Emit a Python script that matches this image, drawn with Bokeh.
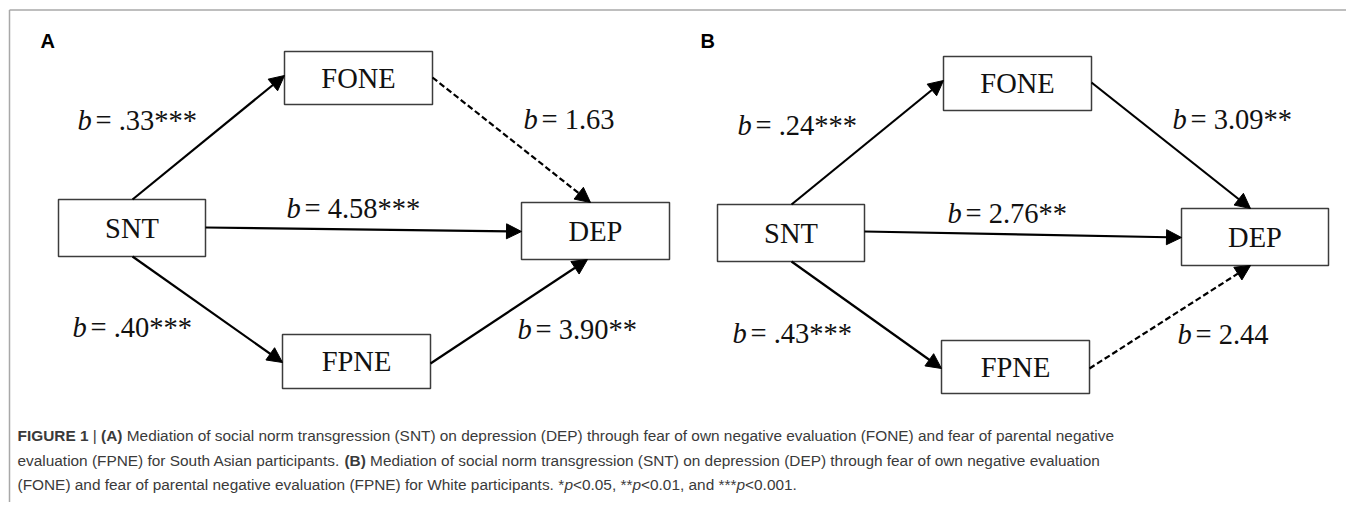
from bokeh.plotting import figure
from bokeh.models import Range1d, Arrow, NormalHead
from bokeh.core.properties import value
from bokeh.embed import file_html
from bokeh.resources import INLINE

# ---------------- data ----------------
panel_labels = ["A", "B"]
node_names = ["FONE", "SNT", "DEP", "FPNE"]
paths = [("SNT", "FONE"), ("FONE", "DEP"), ("SNT", "DEP"), ("SNT", "FPNE"), ("FPNE", "DEP")]
coef_a = [".33", "1.63", "4.58", ".40", "3.90"]
stars_a = ["***", "", "***", "***", "**"]
coef_b = [".24", "3.09", "2.76", ".43", "2.44"]
stars_b = ["***", "**", "**", "***", ""]

caption_lines = [
    [("FIGURE 1", "b"), (" | ", "n"), ("(A)", "b"),
     (" Mediation of social norm transgression (SNT) on depression (DEP) through fear of own negative evaluation (FONE) and fear of parental negative", "n")],
    [("evaluation (FPNE) for South Asian participants. ", "n"), ("(B)", "b"),
     (" Mediation of social norm transgression (SNT) on depression (DEP) through fear of own negative evaluation", "n")],
    [("(FONE) and fear of parental negative evaluation (FPNE) for White participants. *", "n"), ("p", "i"),
     ("<0.05, **", "n"), ("p", "i"), ("<0.01, and ***", "n"), ("p", "i"), ("<0.001.", "n")],
]

# ---------------- layout (pixel coordinates) ----------------
W, H = 1346, 502

boxes = [
    {"FONE": (284, 51, 432, 104), "SNT": (58, 199, 205, 256), "DEP": (521, 202, 669, 259), "FPNE": (282, 334, 430, 388)},
    {"FONE": (943, 56, 1091, 110), "SNT": (717, 204, 864, 261), "DEP": (1181, 208, 1328, 265), "FPNE": (941, 340, 1089, 393)},
]
arrow_pts = [
    [((132, 199), (284, 75)), ((432, 77), (590, 202)), ((205, 227), (521, 231)), ((132, 256), (282, 362)), ((430, 363), (587, 259))],
    [((791, 204), (943, 80)), ((1091, 82), (1250, 208)), ((864, 231), (1181, 237)), ((791, 261), (941, 368)), ((1089, 368), (1250, 265))],
]
label_pos = [
    [(77, 130), (523, 129), (286, 218), (72, 337), (517, 339)],
    [(737, 135), (1172, 129), (947, 223), (732, 343), (1177, 344)],
]
panel_label_pos = [(40, 48), (700, 48)]

FS = 28.5        # diagram font size
MID = 0.34       # baseline -> middle offset (em)

p = figure(width=W, height=H, x_range=Range1d(0, W), y_range=Range1d(H, 0),
           output_backend="svg", toolbar_location=None, min_border=0)
p.axis.visible = False
p.grid.visible = False
p.outline_line_color = None
p.background_fill_color = "white"
p.border_fill_color = "white"

# outer frame (top and left edges)
p.line([9, W], [9.5, 9.5], line_color="#a8a8a8", line_width=1.5)
p.line([9, 9], [9.5, H], line_color="#a8a8a8", line_width=1.5)

serif = value("Liberation Serif")
coefs = [coef_a, coef_b]
stars = [stars_a, stars_b]

for k in range(2):
    bx = boxes[k]
    # arrows
    for j, (src, dst) in enumerate(paths):
        (x0, y0), (x1, y1) = arrow_pts[k][j]
        dashed = stars[k][j] == ""
        p.add_layout(Arrow(
            end=NormalHead(size=15, fill_color="black", line_color="black", line_width=1),
            x_start=x0, y_start=y0, x_end=x1, y_end=y1,
            line_color="black", line_width=2.2, line_dash="6 3" if dashed else "solid"))
    # boxes
    names = node_names
    p.quad(left=[bx[n][0] for n in names], right=[bx[n][2] for n in names],
           top=[bx[n][1] for n in names], bottom=[bx[n][3] for n in names],
           fill_color="white", line_color="#3c3c3c", line_width=1.5)
    p.text(x=[(bx[n][0] + bx[n][2]) / 2 for n in names],
           y=[(bx[n][1] + bx[n][3]) / 2 + 10 - MID * FS for n in names],
           text=names, text_font=serif, text_font_size=f"{FS}px",
           text_align="center", text_baseline="middle", text_color="#111111")
    # coefficient labels
    lx = [a for a, b in label_pos[k]]
    ly = [b - MID * FS for a, b in label_pos[k]]
    p.text(x=lx, y=ly, text=["b"] * len(lx), text_font=serif, text_font_style="italic",
           text_font_size=f"{FS}px", text_baseline="middle", text_color="#111111")
    p.text(x=[v + 18 for v in lx], y=ly,
           text=["= " + c + s for c, s in zip(coefs[k], stars[k])],
           text_font=serif, text_font_size=f"{FS}px", text_baseline="middle", text_color="#111111")
    # panel letter
    p.text(x=[panel_label_pos[k][0]], y=[panel_label_pos[k][1] - 0.36 * 20], text=[panel_labels[k]],
           text_font=value("Liberation Sans"), text_font_style="bold", text_font_size="20px",
           text_baseline="middle", text_color="black")

# ---------------- caption ----------------
REG = {' ': 278, '!': 278, '(': 333, ')': 333, '*': 389, ',': 278, '-': 333, '.': 278, '<': 584, '|': 260,
       'A': 667, 'B': 667, 'C': 722, 'D': 722, 'E': 667, 'F': 611, 'G': 778, 'H': 722, 'I': 278, 'J': 500,
       'K': 667, 'L': 556, 'M': 833, 'N': 722, 'O': 778, 'P': 667, 'Q': 778, 'R': 722, 'S': 667, 'T': 611,
       'U': 722, 'V': 667, 'W': 944, 'X': 667, 'Y': 667, 'Z': 611,
       'a': 556, 'b': 556, 'c': 500, 'd': 556, 'e': 556, 'f': 278, 'g': 556, 'h': 556, 'i': 222, 'j': 222,
       'k': 500, 'l': 222, 'm': 833, 'n': 556, 'o': 556, 'p': 556, 'q': 556, 'r': 333, 's': 500, 't': 278,
       'u': 556, 'v': 500, 'w': 722, 'x': 500, 'y': 500, 'z': 500}
for d in "0123456789":
    REG[d] = 556
BOLD = dict(REG)
BOLD.update({'A': 722, 'B': 722, 'F': 611, 'I': 278, 'G': 778, 'U': 722, 'R': 722, 'E': 667, '|': 280})

def width_units(s, style):
    tbl = BOLD if style == "b" else REG
    return sum(tbl.get(ch, 556) for ch in s)

cap_fs = 15.4
cap_x0 = 17
cap_base = [441, 466, 490]
seg_x, seg_y, seg_t, seg_style = [], [], [], []
for li, line in enumerate(caption_lines):
    x = cap_x0
    for s, st in line:
        lead = len(s) - len(s.lstrip())
        xd = x + width_units(s[:lead], st) * cap_fs / 1000.0
        if s.strip():
            seg_x.append(xd); seg_y.append(cap_base[li] - 0.36 * cap_fs); seg_t.append(s.strip()); seg_style.append(st)
        x += width_units(s, st) * cap_fs / 1000.0

for st, fstyle in (("n", "normal"), ("b", "bold"), ("i", "italic")):
    idx = [i for i, v in enumerate(seg_style) if v == st]
    if idx:
        p.text(x=[seg_x[i] for i in idx], y=[seg_y[i] for i in idx], text=[seg_t[i] for i in idx],
               text_font=value("Liberation Sans"), text_font_style=fstyle,
               text_font_size=f"{cap_fs}px", text_baseline="middle", text_color="#3a3a3a")

open("out.html", "w").write(file_html(p, INLINE))
